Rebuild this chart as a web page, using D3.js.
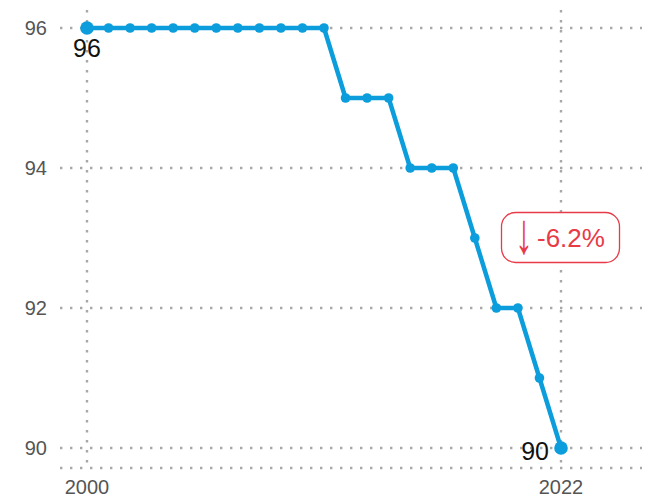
<!DOCTYPE html>
<html><head><meta charset="utf-8">
<script src="https://cdn.jsdelivr.net/npm/d3@7"></script>
<style>body{margin:0;background:#fff;}svg{display:block;font-family:"Liberation Sans",Arial,sans-serif;}</style>
</head><body><svg id="c" width="647" height="499"></svg>
<script>
const years = [2000,2001,2002,2003,2004,2005,2006,2007,2008,2009,2010,2011,2012,2013,2014,2015,2016,2017,2018,2019,2020,2021,2022];
const values = [96,96,96,96,96,96,96,96,96,96,96,96,95,95,95,94,94,94,93,92,92,91,90];
const yTicks = [90,92,94,96];
const xTicks = [2000,2022];
const changeArrow = "↓";
const changeText = "-6.2%";

const svg = d3.select("#c");
const x = d3.scaleLinear().domain([2000,2022]).range([87,561]);
const y = d3.scaleLinear().domain([90,96]).range([448,28]);
const grid = "#a8a8a8";

svg.append("g").selectAll("line").data(yTicks).join("line")
  .attr("x1",60).attr("x2",642).attr("y1",d=>y(d)).attr("y2",d=>y(d))
  .attr("stroke",grid).attr("stroke-width",2.4).attr("stroke-dasharray","2.4,7.6");
svg.append("line").attr("x1",60).attr("x2",642).attr("y1",468).attr("y2",468)
  .attr("stroke",grid).attr("stroke-width",2.4).attr("stroke-dasharray","2.4,7.6");
svg.append("g").selectAll("line").data(xTicks).join("line")
  .attr("x1",d=>x(d)).attr("x2",d=>x(d)).attr("y1",10).attr("y2",470)
  .attr("stroke",grid).attr("stroke-width",2.4).attr("stroke-dasharray","2.4,7.6");

svg.append("g").selectAll("text").data(yTicks).join("text")
  .attr("x",47).attr("y",d=>y(d)+7).attr("text-anchor","end")
  .attr("font-size",20).attr("fill","#555").text(d=>d);
svg.append("g").selectAll("text").data(xTicks).join("text")
  .attr("x",d=>x(d)).attr("y",494).attr("text-anchor","middle")
  .attr("font-size",20).attr("fill","#555").text(d=>d);

const col = "#0c9ddc";
const pts = years.map((yr,i)=>[yr,values[i]]);
svg.append("path").datum(pts)
  .attr("d",d3.line().x(d=>x(d[0])).y(d=>y(d[1])))
  .attr("fill","none").attr("stroke",col).attr("stroke-width",4.5).attr("stroke-linejoin","round");
svg.append("g").selectAll("circle").data(pts).join("circle")
  .attr("cx",d=>x(d[0])).attr("cy",d=>y(d[1]))
  .attr("r",(d,i)=> (i===0||i===pts.length-1)?6.8:4.8).attr("fill",col);

svg.append("text").attr("x",x(years[0])).attr("y",y(values[0])+29).attr("text-anchor","middle")
  .attr("font-size",25).attr("fill","#111").text(values[0]);
svg.append("text").attr("x",549).attr("y",y(values[values.length-1])+12).attr("text-anchor","end")
  .attr("font-size",25).attr("fill","#111").text(values[values.length-1]);

const red = "#e83a47";
svg.append("rect").attr("x",501.5).attr("y",212.5).attr("width",118).attr("height",50).attr("rx",14)
  .attr("fill","#fff").attr("stroke",red).attr("stroke-width",1.3);
svg.append("text").attr("transform","translate(524,253) scale(1,1.6)")
  .attr("text-anchor","middle")
  .attr("font-size",36).attr("fill",red).text(changeArrow);
svg.append("text").attr("x",537).attr("y",247).attr("text-anchor","start")
  .attr("font-size",26).attr("fill",red).text(changeText);
</script></body></html>
